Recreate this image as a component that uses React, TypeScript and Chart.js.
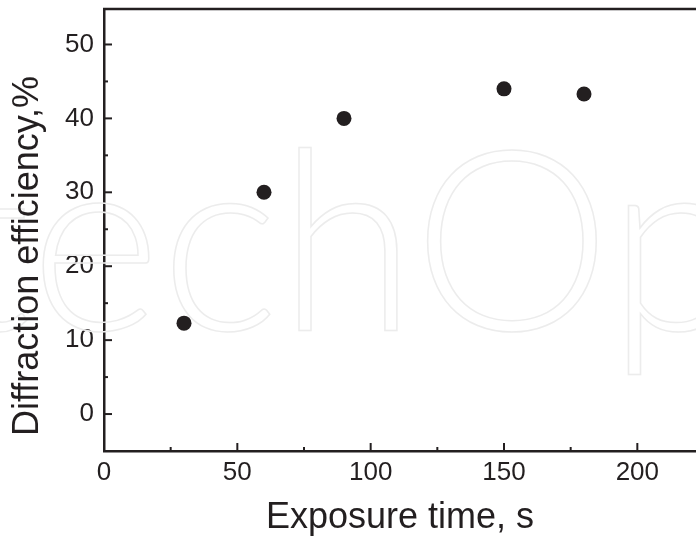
import { useEffect, useRef } from "react";
import { Chart, registerables } from "chart.js";

Chart.register(...registerables);

// Measured diffraction efficiency versus exposure time
const exposureTimes = [30, 60, 90, 150, 180];
const efficiencies = [12.3, 30, 40, 44, 43.3];

const xMajorTicks = [0, 50, 100, 150, 200];
const xMinorTicks = [25, 75, 125, 175];
const yMajorTicks = [0, 10, 20, 30, 40, 50];
const yMinorTicks = [5, 15, 25, 35, 45];

const xTitle = "Exposure time, s";
const yTitle = "Diffraction efficiency,%";
const watermark = "IntechOpen";

const INK = "#231f20";
const FONT = "'Liberation Sans', Arial, Helvetica, sans-serif";

// Faint outlined publisher mark behind the data
const watermarkPlugin = {
  id: "watermark",
  beforeDatasetsDraw(chart: any) {
    const { ctx } = chart;
    ctx.save();
    ctx.font = `300 250px Lato, ${FONT}`;
    ctx.textBaseline = "alphabetic";
    ctx.strokeStyle = "#ececec";
    ctx.lineWidth = 1.5;
    const lead = ctx.measureText("Intech").width;
    ctx.strokeText(watermark, 416 - lead, 330);
    ctx.restore();
  },
};

// Inward major/minor tick marks, top frame line and the rotated y title
const frameTicksPlugin = {
  id: "frameTicks",
  afterDraw(chart: any) {
    const { ctx, chartArea } = chart;
    const xs = chart.scales.x;
    const ys = chart.scales.y;
    ctx.save();
    ctx.strokeStyle = INK;
    ctx.lineCap = "butt";

    // top frame line
    ctx.lineWidth = 2.5;
    ctx.beginPath();
    ctx.moveTo(chartArea.left - 1, chartArea.top);
    ctx.lineTo(chartArea.right, chartArea.top);
    ctx.stroke();

    ctx.lineWidth = 2;
    const xTick = (v: number, len: number) => {
      const px = xs.getPixelForValue(v);
      ctx.beginPath();
      ctx.moveTo(px, chartArea.bottom);
      ctx.lineTo(px, chartArea.bottom - len);
      ctx.stroke();
    };
    const yTick = (v: number, len: number) => {
      const py = ys.getPixelForValue(v);
      ctx.beginPath();
      ctx.moveTo(chartArea.left, py);
      ctx.lineTo(chartArea.left + len, py);
      ctx.stroke();
    };
    xMajorTicks.forEach((v) => v > 0 && xTick(v, 8));
    xMinorTicks.forEach((v) => xTick(v, 4));
    yMajorTicks.forEach((v) => yTick(v, 8));
    yMinorTicks.forEach((v) => yTick(v, 4));

    // y axis title
    ctx.fillStyle = INK;
    ctx.font = `36px ${FONT}`;
    ctx.textAlign = "center";
    ctx.textBaseline = "middle";
    ctx.translate(28, 256);
    ctx.rotate(-Math.PI / 2);
    ctx.fillText(yTitle, 0, 0);
    ctx.restore();
  },
};

export default function App() {
  const canvasRef = useRef<HTMLCanvasElement | null>(null);

  useEffect(() => {
    if (!canvasRef.current) return;
    const chart = new Chart(canvasRef.current, {
      type: "scatter",
      data: {
        datasets: [
          {
            data: exposureTimes.map((x, i) => ({ x, y: efficiencies[i] })),
            backgroundColor: INK,
            borderWidth: 0,
            pointRadius: 7.5,
            pointHoverRadius: 7.5,
            pointStyle: "circle",
            showLine: false,
          },
        ],
      },
      options: {
        animation: false,
        responsive: true,
        maintainAspectRatio: false,
        events: [],
        layout: {
          autoPadding: false,
          padding: { top: 9, right: 0, left: 0, bottom: 0 },
        },
        plugins: {
          legend: { display: false },
          tooltip: { enabled: false },
        },
        scales: {
          x: {
            type: "linear",
            min: 0,
            max: 222,
            afterBuildTicks: (scale: any) => {
              scale.ticks = xMajorTicks.map((value) => ({ value }));
            },
            afterFit: (scale: any) => {
              scale.height = 94;
              scale.paddingLeft = 0;
              scale.paddingRight = 0;
            },
            grid: { display: false, drawTicks: false },
            border: { display: true, color: INK, width: 2.5 },
            ticks: {
              color: INK,
              padding: 6,
              maxRotation: 0,
              font: { family: FONT, size: 26 },
            },
            title: {
              display: true,
              text: xTitle,
              color: INK,
              font: { family: FONT, size: 36 },
              padding: { top: 0, bottom: 5 },
            },
          },
          y: {
            type: "linear",
            min: -5,
            max: 54.8,
            afterBuildTicks: (scale: any) => {
              scale.ticks = yMajorTicks.map((value) => ({ value }));
            },
            afterFit: (scale: any) => {
              scale.width = 104;
              scale.paddingTop = 0;
              scale.paddingBottom = 0;
            },
            grid: { display: false, drawTicks: false },
            border: { display: true, color: INK, width: 2.5 },
            ticks: {
              color: INK,
              padding: 10,
              font: { family: FONT, size: 26 },
            },
          },
        },
      },
      plugins: [watermarkPlugin, frameTicksPlugin],
    });
    return () => chart.destroy();
  }, []);

  return (
    <div
      style={{
        position: "fixed",
        left: 0,
        top: 0,
        width: 696,
        height: 545,
        background: "#ffffff",
      }}
    >
      <canvas ref={canvasRef} />
    </div>
  );
}
